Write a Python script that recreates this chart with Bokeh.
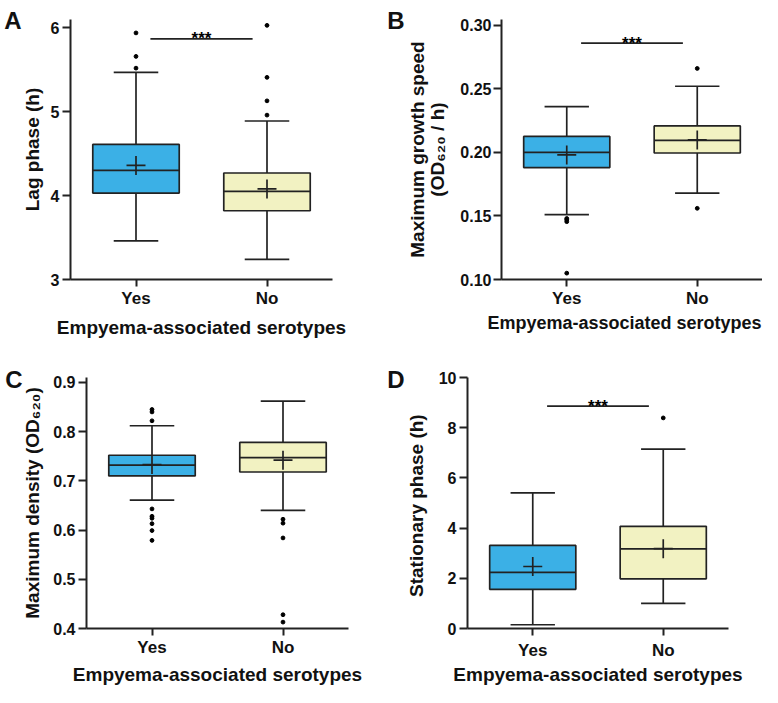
import numpy as np
from bokeh.plotting import figure
from bokeh.layouts import column, row
from bokeh.models import (Range1d, FixedTicker, ColumnDataSource, PrintfTickFormatter,
                          LinearAxis, Title)
from bokeh.core.properties import value
from bokeh.embed import file_html
from bokeh.resources import INLINE

# ---------------- data ----------------
categories = ["Yes", "No"]
x_title = "Empyema-associated serotypes"

# Panel A: lag phase (h)
lag_lo = [3.46, 3.24]
lag_q1 = [4.03, 3.82]
lag_med = [4.30, 4.05]
lag_q3 = [4.61, 4.27]
lag_hi = [5.47, 4.89]
lag_mean = [4.36, 4.08]
lag_out_yes = [5.94, 5.66, 5.52]
lag_out_no = [6.03, 5.41, 5.13, 4.96]
lag_ticks = [3, 4, 5, 6]

# Panel B: maximum growth speed (OD620 / h)
spd_lo = [0.151, 0.168]
spd_q1 = [0.188, 0.1995]
spd_med = [0.200, 0.2095]
spd_q3 = [0.2125, 0.2208]
spd_hi = [0.236, 0.252]
spd_mean = [0.198, 0.2098]
spd_out_yes = [0.148, 0.147, 0.1455, 0.105]
spd_out_no = [0.266, 0.156]
spd_ticks = [0.10, 0.15, 0.20, 0.25, 0.30]

# Panel C: maximum density (OD620)
den_lo = [0.661, 0.640]
den_q1 = [0.710, 0.718]
den_med = [0.732, 0.747]
den_q3 = [0.752, 0.778]
den_hi = [0.812, 0.862]
den_mean = [0.733, 0.742]
den_out_yes = [0.845, 0.840, 0.822, 0.643, 0.628, 0.624, 0.613, 0.599, 0.579]
den_out_no = [0.622, 0.614, 0.584, 0.428, 0.413]
den_ticks = [0.4, 0.5, 0.6, 0.7, 0.8, 0.9]

# Panel D: stationary phase (h)
sta_lo = [0.15, 1.00]
sta_q1 = [1.56, 1.98]
sta_med = [2.24, 3.17]
sta_q3 = [3.31, 4.07]
sta_hi = [5.40, 7.15]
sta_mean = [2.47, 3.18]
sta_out_yes = []
sta_out_no = [8.39]
sta_ticks = [0, 2, 4, 6, 8, 10]

# significance bars: (y level, label)
sig_A = (5.87, "***")
sig_B = (0.2859, "***")
sig_D = (8.86, "***")

# ---------------- style ----------------
FONT = "Liberation Sans"
LINE = "#222222"
TXT = "#111111"
FILLS = ["#3bb0e6", "#f2f2c2"]


def style_axis(ax):
    ax.axis_line_width = 2
    ax.axis_line_color = LINE
    ax.major_tick_line_width = 2
    ax.major_tick_line_color = LINE
    ax.major_tick_in = 0
    ax.minor_tick_line_color = None
    ax.major_label_text_font = FONT
    ax.major_label_text_font_style = "bold"
    ax.major_label_text_color = TXT
    ax.axis_label_text_font = FONT
    ax.axis_label_text_font_style = "bold"
    ax.axis_label_text_color = TXT
    ax.axis_label_text_font_size = "19px"


def make_panel(letter, letter_y, letter_std, ylabel, yr, yticks, yfmt,
               lo, q1, med, q3, hi, mean, out_yes, out_no, sig,
               w, h, borders, x_std, y_std, xtitle_as_title=False):
    left, right, top, bottom = borders
    p = figure(width=w, height=h, x_range=Range1d(0, len(categories)), y_range=Range1d(*yr),
               output_backend="svg", toolbar_location=None,
               min_border_left=left, min_border_right=right,
               min_border_top=top, min_border_bottom=bottom)
    p.outline_line_color = None
    p.grid.visible = False

    xs = np.arange(len(categories)) + 0.5
    src = ColumnDataSource(dict(x=xs, lo=lo, q1=q1, med=med, q3=q3, hi=hi, mean=mean,
                                fill=FILLS, left=xs - 0.33, right=xs + 0.33,
                                cl=xs - 0.17, cr=xs + 0.17))
    lw = 1.7
    p.segment("x", "q3", "x", "hi", source=src, line_color=LINE, line_width=lw)
    p.segment("x", "lo", "x", "q1", source=src, line_color=LINE, line_width=lw)
    p.segment("cl", "hi", "cr", "hi", source=src, line_color=LINE, line_width=lw)
    p.segment("cl", "lo", "cr", "lo", source=src, line_color=LINE, line_width=lw)
    p.quad(left="left", right="right", bottom="q1", top="q3", source=src,
           fill_color="fill", line_color=LINE, line_width=lw)
    p.segment("left", "med", "right", "med", source=src, line_color=LINE, line_width=lw)
    p.scatter("x", "mean", source=src, marker="cross", size=19, line_color=LINE, line_width=lw)

    ox = [xs[0]] * len(out_yes) + [xs[1]] * len(out_no)
    oy = list(out_yes) + list(out_no)
    if oy:
        p.scatter(ox, oy, size=3.8, color="black")

    if sig is not None:
        sy, stxt = sig
        p.segment(x0=[xs[0] + 0.11], y0=[sy], x1=[xs[1] - 0.11], y1=[sy],
                  line_color=LINE, line_width=lw)
        p.text(x=[(xs[0] + xs[1]) / 2], y=[sy], text=[stxt], text_align="center",
               text_baseline="alphabetic", y_offset=0, text_font=value(FONT),
               text_font_size="17px", text_font_style="bold", text_color="black")

    for ax in (p.xaxis, p.yaxis):
        style_axis(ax)

    p.xaxis.ticker = FixedTicker(ticks=list(xs))
    p.xaxis.major_label_overrides = {float(x): c for x, c in zip(xs, categories)}
    p.xaxis.major_tick_out = 7
    p.xaxis.major_label_text_font_size = "17px"
    p.xaxis.major_label_standoff = x_std[0]
    if xtitle_as_title:
        p.add_layout(Title(text=x_title, align="left", offset=-14, vertical_align="top",
                           standoff=x_std[1], text_font=FONT, text_font_size="18px",
                           text_font_style="bold", text_color=TXT), "below")
    else:
        p.xaxis.axis_label = x_title
        p.xaxis.axis_label_standoff = x_std[1]

    p.yaxis.ticker = FixedTicker(ticks=yticks)
    p.yaxis.formatter = PrintfTickFormatter(format=yfmt)
    p.yaxis.major_tick_out = 8
    p.yaxis.major_label_text_font_size = "16px"
    p.yaxis.axis_label = ylabel
    p.yaxis.axis_label_text_line_height = 0.95
    p.yaxis.major_label_standoff = y_std[0]
    p.yaxis.axis_label_standoff = y_std[1]

    # panel letter, shown as the single label of an extra, line-less axis
    lab = LinearAxis(ticker=FixedTicker(ticks=[letter_y]),
                     major_label_overrides={letter_y: letter})
    lab.axis_line_color = None
    lab.major_tick_line_color = None
    lab.minor_tick_line_color = None
    lab.major_tick_out = 0
    lab.major_tick_in = 0
    lab.major_label_standoff = letter_std
    lab.major_label_text_font = FONT
    lab.major_label_text_font_style = "bold"
    lab.major_label_text_font_size = "24px"
    lab.major_label_text_color = TXT
    p.add_layout(lab, "left")
    return p


pA = make_panel("A", 6.094, -3, "Lag phase (h)", (3, 6.1), lag_ticks, "%d",
                lag_lo, lag_q1, lag_med, lag_q3, lag_hi, lag_mean, lag_out_yes, lag_out_no,
                sig_A, 381, 340, (70, 49, 19, 61), (2, 6), (3, 5))
pB = make_panel("B", 0.3035, 0, "Maximum growth speed\n(OD₆₂₀ / h)", (0.10, 0.3045), spd_ticks,
                "%.2f", spd_lo, spd_q1, spd_med, spd_q3, spd_hi, spd_mean, spd_out_yes,
                spd_out_no, sig_B, 381, 340, (120, 0, 15, 59), (2, 4), (2, 9),
                xtitle_as_title=True)
pC = make_panel("C", 0.9066, -3, "Maximum density (OD₆₂₀)", (0.4, 0.91), den_ticks, "%.1f",
                den_lo, den_q1, den_med, den_q3, den_hi, den_mean, den_out_yes, den_out_no,
                None, 381, 347, (86, 33, 35, 59), (2, 4), (3, 7))
pD = make_panel("D", 9.94, -2, "Stationary phase  (h)", (0, 10), sta_ticks, "%d",
                sta_lo, sta_q1, sta_med, sta_q3, sta_hi, sta_mean, sta_out_yes, sta_out_no,
                sig_D, 381, 347, (86, 34, 37, 59), (5, 1), (3, 9))

layout = column(row(pA, pB, spacing=0), row(pC, pD, spacing=0), spacing=0)
open("out.html", "w").write(file_html(layout, INLINE))
